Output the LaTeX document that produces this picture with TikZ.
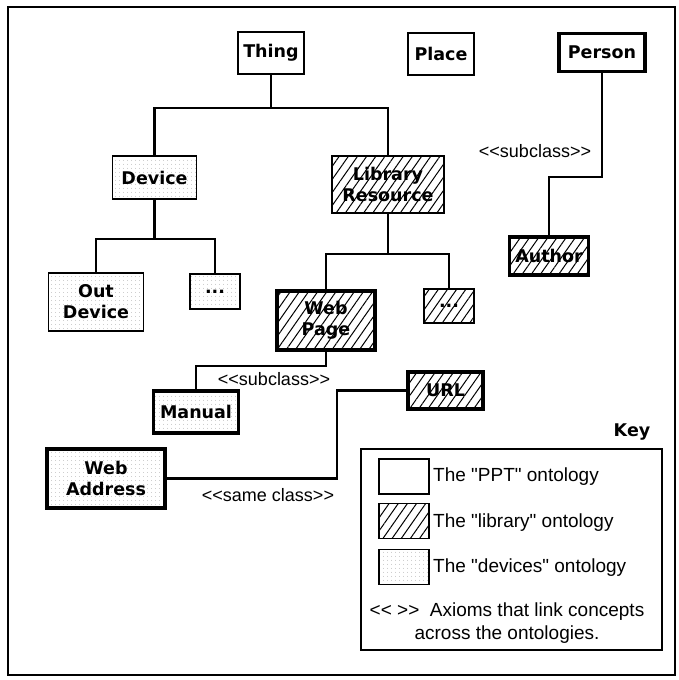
\documentclass[tikz,border=0pt]{standalone}
\usepackage{fontspec}
\setmainfont{Liberation Sans}[Ligatures=TeXOff]
\newfontfamily\labelfont{DejaVu Sans Bold}
\usetikzlibrary{patterns.meta}
% double angle brackets kept as two separate characters
\newcommand\dlt{<\kern0pt<}
\newcommand\dgt{>\kern0pt>}
\tikzset{
  concept/.style={draw, line width=1.6pt, align=center, inner sep=0pt,
    font=\labelfont\fontsize{17.5}{21}\selectfont},
  heavy/.style={line width=3.8pt},
  ppt/.style={fill=white},
  library/.style={pattern={Lines[angle=55,distance=7.5pt,line width=1pt]}},
  devices/.style={pattern={Dots[distance=4pt,radius=0.45pt]}, pattern color=black!45},
  link/.style={line width=2.6pt},
  axiom/.style={font=\fontsize{18}{22}\selectfont, inner sep=1pt},
  legend/.style={font=\fontsize{19}{23}\selectfont, inner sep=0pt},
  swatch/.style={draw, line width=1.5pt, minimum width=50pt, minimum height=35pt, inner sep=0pt}
}
\begin{document}
\begin{tikzpicture}[x=1pt,y=-1pt]
\useasboundingbox (0,0) rectangle (678,680);
\draw[line width=1.5pt] (8,7) rectangle (675,675);

% concepts
\node[concept,ppt,minimum width=66pt,minimum height=42pt] (thing) at (271,53) {Thing};
\node[concept,ppt,minimum width=66pt,minimum height=42pt] (place) at (441,54) {Place};
\node[concept,ppt,heavy,minimum width=86pt,minimum height=38pt] (person) at (602,52.5) {Person};
\node[concept,devices,minimum width=84pt,minimum height=43pt] (device) at (154.5,177.5) {Device};
\node[concept,library,minimum width=112pt,minimum height=57pt] (libres) at (388,184.5) {Library\\Resource};
\node[concept,devices,minimum width=95pt,minimum height=58pt] (outdev) at (96,302) {Out\\Device};
\node[concept,devices,minimum width=50pt,minimum height=35pt] (moredev) at (215,291.5) {...};
\node[concept,library,heavy,minimum width=98pt,minimum height=59pt] (webpage) at (326,320.5) {Web\\Page};
\node[concept,library,minimum width=50pt,minimum height=34pt] (morelib) at (449,306) {...};
\node[concept,devices,heavy,minimum width=85pt,minimum height=42pt] (manual) at (196,412) {Manual};
\node[concept,library,heavy,minimum width=79pt,minimum height=38pt] (author) at (549,256) {Author};
\node[concept,library,heavy,minimum width=75pt,minimum height=37pt] (url) at (445.5,390.5) {URL};
\node[concept,devices,heavy,minimum width=118pt,minimum height=59pt] (webaddr) at (106,478.5) {Web\\Address};

% hierarchy links
\coordinate (j1) at (271,108);
\draw[link] (thing.south) -- (j1);
\draw[link] (device.north) |- (j1) -| (libres.north);
\coordinate (j2) at (154.5,239);
\draw[link] (device.south) -- (j2);
\draw[link] (outdev.north) |- (j2) -| (moredev.north);
\coordinate (j3) at (388,254);
\draw[link] (libres.south) -- (j3);
\draw[link] (webpage.north) |- (j3) -| (morelib.north);

% axiom links
\coordinate (j4) at (326,366);
\draw[link] (webpage.south) -- (j4) -| (manual.north);
\node[axiom] (sub1) at (274,379) {\dlt subclass\dgt};
\coordinate (j5) at (602,177);
\draw[link,line width=2.2pt] (person.south) -- (j5) -| (author.north);
\node[axiom] (sub2) at (535,151) {\dlt subclass\dgt};
\coordinate (j6) at (337,430);
\draw[link,line width=2.2pt] (url.west) -| (j6) |- (webaddr.east);
\node[axiom] (same) at (268,495) {\dlt same class\dgt};

% key
\node[font=\labelfont\fontsize{17.5}{20}\selectfont] (keytitle) at (632,432) {Key};
\node[draw, line width=1.5pt, minimum width=301pt, minimum height=201pt] (keybox) at (511.5,549.5) {};
\node[swatch,ppt] (sw1) at (404,476.5) {};
\node[swatch,library] (sw2) at (404,521) {};
\node[swatch,devices] (sw3) at (404,567) {};
\node[legend,anchor=west] (t1) at (433,477) {The "PPT" ontology};
\node[legend,anchor=west] (t2) at (433,523) {The "library" ontology};
\node[legend,anchor=west] (t3) at (433,568) {The "devices" ontology};
\node[legend,align=center] (axioms) at (507,623) {\dlt{} \dgt\ \ Axioms that link concepts\\across the ontologies.};
\end{tikzpicture}
\end{document}
